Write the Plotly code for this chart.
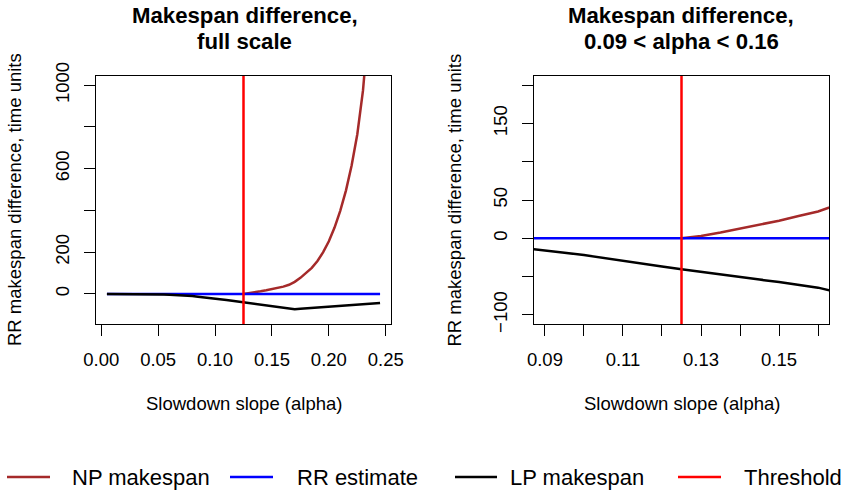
import plotly.graph_objects as go

# ---------------- data ----------------
alpha = [0.005, 0.010, 0.015, 0.020, 0.025, 0.030, 0.035, 0.040, 0.045, 0.050,
         0.055, 0.060, 0.065, 0.070, 0.075, 0.080, 0.085, 0.090, 0.095, 0.100,
         0.105, 0.110, 0.115, 0.120, 0.125, 0.130, 0.135, 0.140, 0.145, 0.150,
         0.155, 0.160, 0.165, 0.170, 0.175, 0.180, 0.185, 0.190, 0.195, 0.200,
         0.205, 0.210, 0.215, 0.220, 0.225, 0.230, 0.235, 0.240, 0.245]

lp_makespan = [0, 0, -0.2, -0.4, -0.6, -0.9, -1.2, -1.6, -2.0, -2.6,
               -3.2, -4.0, -5.0, -6.2, -8.0, -10.2, -13.2, -15.8, -18.8, -22.0,
               -25.5, -29.3, -33.0, -36.8, -40.5, -44.0, -47.5, -51.0, -54.0, -57.0,
               -60.5, -64.5, -70.5, -73.5, -71.5, -69.5, -67.5, -65.5, -63.5, -61.5,
               -59.5, -57.5, -55.5, -53.5, -51.5, -49.5, -47.5, -45.5, -43.5]

rr_estimate = [0] * len(alpha)

np_alpha = [0.125, 0.130, 0.135, 0.140, 0.145, 0.150, 0.155, 0.160, 0.165, 0.170,
            0.175, 0.180, 0.185, 0.190, 0.195, 0.200, 0.205, 0.210, 0.215, 0.220,
            0.225, 0.230, 0.235, 0.240, 0.245]
np_makespan = [0, 3, 7.5, 12.5, 17.5, 23, 29, 35, 44, 58,
               77, 99, 125, 158, 200, 252, 318, 398, 495, 615,
               765, 975, 1210, 1530, 1930]

threshold = 0.125

series_names = ["NP makespan", "RR estimate", "LP makespan", "Threshold"]
series_colors = ["#A52A2A", "#0000FF", "#000000", "#FF0000"]

titles = [["Makespan difference,", "full scale"],
          ["Makespan difference,", "0.09 < alpha < 0.16"]]
x_title = "Slowdown slope (alpha)"
y_title = "RR makespan difference, time units"

# panel limits (R style, expanded 4 %)
left_xlim = [min(alpha), max(alpha)]
left_ylim = [-100, 1000]
right_xlim = [0.09, 0.16]
right_ylim = [-100, 200]

left_xticks = [0.00, 0.05, 0.10, 0.15, 0.20, 0.25]
left_xtext = ["0.00", "0.05", "0.10", "0.15", "0.20", "0.25"]
left_yticks = [0, 200, 400, 600, 800, 1000]
left_ytext = ["0", "200", "", "600", "", "1000"]
right_xticks = [0.09, 0.10, 0.11, 0.12, 0.13, 0.14, 0.15, 0.16]
right_xtext = ["0.09", "", "0.11", "", "0.13", "", "0.15", ""]
right_yticks = [-100, -50, 0, 50, 100, 150, 200]
right_ytext = ["\u2212100", "", "0", "50", "", "150", ""]


def expand(lim, f=0.04):
    d = (lim[1] - lim[0]) * f
    return [lim[0] - d, lim[1] + d]


# ---------------- figure ----------------
W, H = 846, 492
FONT = "Liberation Sans, Arial, Helvetica, sans-serif"
LW = 2.5

fig = go.Figure()

for ax in ["1", "2"]:
    xa = "x" if ax == "1" else "x2"
    ya = "y" if ax == "1" else "y2"
    fig.add_trace(go.Scatter(x=np_alpha, y=np_makespan, mode="lines", name=series_names[0],
                             line=dict(color=series_colors[0], width=LW), xaxis=xa, yaxis=ya,
                             showlegend=False))
    fig.add_trace(go.Scatter(x=alpha, y=rr_estimate, mode="lines", name=series_names[1],
                             line=dict(color=series_colors[1], width=LW), xaxis=xa, yaxis=ya,
                             showlegend=False))
    fig.add_trace(go.Scatter(x=alpha, y=lp_makespan, mode="lines", name=series_names[2],
                             line=dict(color=series_colors[2], width=LW), xaxis=xa, yaxis=ya,
                             showlegend=False))
    fig.add_shape(type="line", xref=xa, yref=ya + " domain", x0=threshold, x1=threshold,
                  y0=0, y1=1, line=dict(color=series_colors[3], width=LW), layer="above")

px = lambda v: v / W
py = lambda v: 1 - v / H

ydom = [py(324), py(76)]
axis_common = dict(showline=True, mirror=True, linecolor="black", linewidth=1,
                   ticks="outside", ticklen=11, tickwidth=1, tickcolor="black",
                   showgrid=False, zeroline=False, tickmode="array", automargin=False,
                   tickfont=dict(family=FONT, size=18.5, color="black"))

fig.update_layout(
    width=W, height=H,
    margin=dict(l=0, r=0, t=0, b=0, pad=0, autoexpand=False),
    plot_bgcolor="white", paper_bgcolor="white",
    showlegend=False,
    xaxis=dict(domain=[px(96), px(391)], range=expand(left_xlim), anchor="y",
               tickvals=left_xticks, ticktext=left_xtext, ticklabelstandoff=8, **axis_common),
    yaxis=dict(domain=ydom, range=expand(left_ylim), anchor="x",
               tickvals=left_yticks, ticktext=left_ytext, tickangle=-90,
               ticklabelstandoff=8, **axis_common),
    xaxis2=dict(domain=[px(534), px(829)], range=expand(right_xlim), anchor="y2",
                tickvals=right_xticks, ticktext=right_xtext, ticklabelstandoff=8, **axis_common),
    yaxis2=dict(domain=ydom, range=expand(right_ylim), anchor="x2",
                tickvals=right_yticks, ticktext=right_ytext, tickangle=-90,
                ticklabelstandoff=8, **axis_common),
)

ann = []
# main titles
for cx, lines in zip([245, 681], titles):
    for yy, t in zip([15.0, 42.0], lines):
        ann.append(dict(x=px(cx), y=py(yy), xref="paper", yref="paper", text="<b>%s</b>" % t,
                        showarrow=False, xanchor="center", yanchor="middle",
                        font=dict(family=FONT, size=22.2, color="black")))
# axis titles
for cx in [243.5, 681.5]:
    ann.append(dict(x=px(cx), y=py(403.5), xref="paper", yref="paper", text=x_title,
                    showarrow=False, xanchor="center", yanchor="middle",
                    font=dict(family=FONT, size=18.5, color="black")))
for cx in [14, 453.5]:
    ann.append(dict(x=px(cx), y=py(200), xref="paper", yref="paper", text=y_title,
                    showarrow=False, xanchor="center", yanchor="middle", textangle=-90,
                    font=dict(family=FONT, size=18.5, color="black")))

# legend row (R-style, below plots)
leg_y = 477
leg_lines = [(7, 50), (230, 273), (455, 497), (678, 721)]
leg_text_x = [70, 295, 508, 742]
for (x0, x1), tx, name, col in zip(leg_lines, leg_text_x, series_names, series_colors):
    fig.add_shape(type="line", xref="paper", yref="paper", x0=px(x0), x1=px(x1),
                  y0=py(leg_y), y1=py(leg_y), line=dict(color=col, width=LW))
    ann.append(dict(x=px(tx), y=py(leg_y), xref="paper", yref="paper", text=name,
                    showarrow=False, xanchor="left", yanchor="middle",
                    font=dict(family=FONT, size=22, color="black")))

fig.update_layout(annotations=ann)
fig.write_html("out.html")
